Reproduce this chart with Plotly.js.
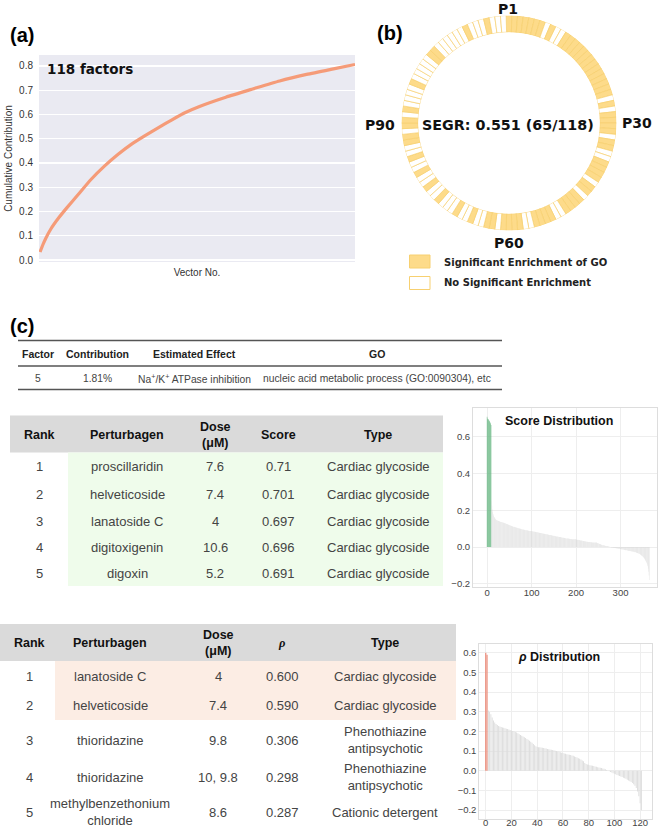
<!DOCTYPE html>
<html><head><meta charset="utf-8">
<script src="https://cdn.plot.ly/plotly-3.0.1.min.js"></script>
<style>html,body{margin:0;padding:0;background:#fff}#chart{width:658px;height:828px}</style>
</head><body><div id="chart"></div>
<script>
// ---------- DATA ----------
// (a) cumulative contribution of factors
const cumIndex = [1,2,3,5,8,11,15,20,25,30,35,40,45,50,55,60,70,80,90,100,110,118];
const cumValue = [0.033,0.062,0.087,0.128,0.175,0.216,0.268,0.333,0.388,0.436,0.478,0.513,0.546,0.578,0.608,0.632,0.671,0.705,0.738,0.765,0.788,0.806];

// (b) significant GO enrichment per factor (1 = significant), factors P1..P118
const goFlags = [
 1,1,1,1,1,1,1,0,1,0,0,1,1,1,1,1,1,1,1,1,1,1,1,1,1,0,1,0,1,1,
 1,1,0,1,1,0,0,1,1,1,1,0,1,1,0,1,1,1,1,0,0,1,1,1,1,0,0,1,1,
 1,1,0,1,1,0,0,1,0,0,1,0,0,0,1,0,0,1,0,0,1,0,0,1,0,0,1,1,0,1,
 1,0,1,0,0,0,0,1,0,0,0,0,0,1,1,0,0,0,0,0,0,1,0,0,0,1,0,0,0
];
const ringLabels = ['P1','P30','P60','P90'];
const segrText = 'SEGR: 0.551 (65/118)';
const legendText = ['Significant Enrichment of GO','No Significant Enrichment'];

// (c) factor table
const topHeaders = ['Factor','Contribution','Estimated Effect','GO'];
const topRow = ['5','1.81%','Na<sup>+</sup>/K<sup>+</sup> ATPase inhibition','nucleic acid metabolic process (GO:0090304), etc'];

// table 1 (score)
const t1Headers = ['Rank','Perturbagen','Dose<br>(μM)','Score','Type'];
const t1Rank = ['1','2','3','4','5'];
const t1Pert = ['proscillaridin','helveticoside','lanatoside C','digitoxigenin','digoxin'];
const t1Dose = ['7.6','7.4','4','10.6','5.2'];
const t1Score = ['0.71','0.701','0.697','0.696','0.691'];
const t1Type = ['Cardiac glycoside','Cardiac glycoside','Cardiac glycoside','Cardiac glycoside','Cardiac glycoside'];

// table 2 (rho)
const t2Headers = ['Rank','Perturbagen','Dose<br>(μM)','<i>ρ</i>','Type'];
const t2Rank = ['1','2','3','4','5'];
const t2Pert = ['lanatoside C','helveticoside','thioridazine','thioridazine','methylbenzethonium<br>chloride'];
const t2Dose = ['4','7.4','9.8','10, 9.8','8.6'];
const t2Rho = ['0.600','0.590','0.306','0.298','0.287'];
const t2Type = ['Cardiac glycoside','Cardiac glycoside','Phenothiazine<br>antipsychotic','Phenothiazine<br>antipsychotic','Cationic detergent'];

// score distribution (sorted), first scoreHighlightN highlighted
const scoreHighlightN = 10;
const scoreValues = [
 0.710,0.701,0.697,0.696,0.691,0.688,0.684,0.679,0.673,0.665,
 0.250,0.225,0.205,0.190,0.178,0.170,0.164,0.159,0.155,0.152,
 0.150,0.148,0.146,0.145,0.144,0.143,0.142,0.141,0.140,0.139,0.138,0.137,0.136,0.136,0.135,0.134,0.134,0.133,0.132,0.131,
 0.130,0.129,0.128,0.127,0.126,0.125,0.124,0.123,0.122,0.121,0.120,0.119,0.118,0.117,0.116,0.115,0.114,0.113,0.112,0.111,
 0.110,0.110,0.109,0.108,0.108,0.107,0.106,0.105,0.105,0.104,0.103,0.102,0.102,0.101,0.100,0.099,0.099,0.098,0.097,0.097,
 0.096,0.095,0.095,0.094,0.094,0.093,0.093,0.092,0.092,0.091,0.091,0.090,0.090,0.089,0.089,0.088,0.088,0.088,0.087,0.087,
 0.087,0.086,0.086,0.085,0.085,0.084,0.084,0.083,0.083,0.082,0.082,0.081,0.081,0.080,0.080,0.079,0.079,0.078,0.078,0.077,
 0.077,0.076,0.076,0.075,0.075,0.074,0.074,0.073,0.072,0.072,0.071,0.071,0.070,0.070,0.069,0.069,0.068,0.068,0.067,0.067,
 0.066,0.066,0.065,0.065,0.064,0.064,0.063,0.063,0.062,0.062,0.061,0.061,0.060,0.060,0.059,0.059,0.058,0.058,0.057,0.057,
 0.056,0.056,0.055,0.055,0.054,0.054,0.053,0.053,0.052,0.052,0.051,0.051,0.050,0.050,0.049,0.049,0.048,0.048,0.047,0.047,
 0.047,0.046,0.046,0.046,0.045,0.045,0.045,0.044,0.044,0.044,0.043,0.043,0.043,0.043,0.042,0.042,0.042,0.042,0.042,0.042,
 0.041,0.041,0.040,0.040,0.039,0.039,0.038,0.038,0.037,0.037,0.036,0.036,0.035,0.035,0.034,0.034,0.033,0.033,0.032,0.032,
 0.031,0.031,0.030,0.030,0.029,0.029,0.029,0.028,0.028,0.028,0.027,0.027,0.027,0.026,0.026,0.026,0.025,0.025,0.025,0.024,
 0.024,0.024,0.024,0.024,0.024,0.024,0.024,0.023,0.022,0.021,0.020,0.019,0.018,0.017,0.016,0.015,0.014,0.013,0.012,0.011,
 0.010,0.009,0.009,0.008,0.008,0.007,0.007,0.006,0.006,0.005,0.005,0.004,0.004,0.003,0.003,0.002,0.001,0.000,-0.001,-0.002,
 -0.002,-0.003,-0.003,-0.004,-0.004,-0.005,-0.005,-0.006,-0.006,-0.007,-0.007,-0.007,-0.008,-0.008,-0.008,-0.009,-0.009,-0.010,-0.010,-0.011,
 -0.011,-0.012,-0.012,-0.013,-0.013,-0.014,-0.014,-0.015,-0.015,-0.016,-0.016,-0.017,-0.017,-0.018,-0.018,-0.019,-0.019,-0.020,-0.020,-0.021,
 -0.021,-0.022,-0.022,-0.023,-0.023,-0.024,-0.024,-0.025,-0.025,-0.026,-0.026,-0.027,-0.028,-0.028,-0.029,-0.030,-0.031,-0.032,-0.033,-0.034,
 -0.035,-0.036,-0.037,-0.038,-0.040,-0.042,-0.044,-0.046,-0.048,-0.050,-0.052,-0.055,-0.058,-0.061,-0.064,-0.068,-0.072,-0.077,-0.082,-0.088,
 -0.095,-0.105,-0.118,-0.135,-0.155,-0.180
];

// rho distribution (sorted), first rhoHighlightN highlighted
const rhoHighlightN = 2;
const rhoValues = [
 0.600,0.590,
 0.306,0.298,0.287,0.270,0.255,0.245,0.238,0.232,
 0.228,0.225,0.222,0.220,0.218,0.216,0.214,0.212,0.210,0.207,
 0.204,0.202,0.200,0.197,0.194,0.190,0.186,0.182,0.178,0.174,
 0.170,0.166,0.162,0.158,0.153,0.148,0.142,0.136,0.130,0.124,
 0.121,0.120,0.119,0.118,0.117,0.116,0.115,0.113,0.111,0.109,
 0.108,0.107,0.106,0.104,0.102,0.100,0.098,0.096,0.094,0.092,
 0.090,0.088,0.086,0.084,0.083,0.082,0.080,0.078,0.076,0.073,
 0.070,0.067,0.064,0.061,0.057,0.052,0.048,0.040,0.035,0.032,
 0.030,0.028,0.027,0.025,0.024,0.022,0.020,0.018,0.016,0.015,
 0.014,0.012,0.010,0.008,0.004,0.000,-0.003,-0.006,-0.009,-0.012,
 -0.015,-0.018,-0.021,-0.024,-0.027,-0.029,-0.032,-0.035,-0.038,-0.041,
 -0.045,-0.049,-0.053,-0.057,-0.062,-0.068,-0.076,-0.088,-0.105,-0.130,-0.165,-0.200
];

// ---------- HELPERS ----------
const W = 658, H = 828;
const px = v => v / W;
const py = v => 1 - v / H;
const SANS = 'Liberation Sans, Arial, sans-serif';
const BOLDV = 'DejaVu Sans, Verdana, sans-serif';
const annotations = [];
const shapes = [];
function ann(text, x, y, size, opts) {
  opts = opts || {};
  annotations.push(Object.assign({
    text: text, x: px(x), y: py(y), xref: 'paper', yref: 'paper',
    showarrow: false, xanchor: 'center', yanchor: 'middle',
    font: {family: opts.family || SANS, size: size, color: opts.color || '#222',
           weight: opts.bold ? 'bold' : 'normal'}
  }, opts.extra || {}));
}
function rect(x0, y0, x1, y1, fill, line, lw) {
  shapes.push({type: 'rect', xref: 'paper', yref: 'paper', x0: px(x0), x1: px(x1), y0: py(y1), y1: py(y0),
    fillcolor: fill, line: {color: line || 'rgba(0,0,0,0)', width: lw || 0}, layer: 'below'});
}
function hline(x0, x1, y, color, w) {
  shapes.push({type: 'line', xref: 'paper', yref: 'paper', x0: px(x0), x1: px(x1), y0: py(y), y1: py(y),
    line: {color: color, width: w}});
}

// ---------- TRACES ----------
const traces = [];
// (a)
traces.push({type: 'scatter', mode: 'lines', x: cumIndex, y: cumValue, xaxis: 'x', yaxis: 'y',
  line: {color: '#F59B78', width: 3.2, shape: 'spline', smoothing: 0.6}, hoverinfo: 'skip'});
// (b)
const factorLabels = goFlags.map((_, i) => 'P' + (i + 1));
const YEL = '#FDDB8A', YEL_LINE = '#F7D070';
traces.push({type: 'barpolar', r: goFlags.map(() => 1), theta: factorLabels, subplot: 'polar',
  marker: {color: goFlags.map(f => f ? YEL : '#FFFFFF'), line: {color: YEL_LINE, width: 0.7}},
  hoverinfo: 'skip'});
// score distribution
const scoreRank = scoreValues.map((_, i) => i);
traces.push({type: 'bar', x: scoreRank, y: scoreValues, xaxis: 'x2', yaxis: 'y2',
  width: scoreValues.map((_, i) => i < scoreHighlightN ? 1.0 : 0.6),
  marker: {color: scoreValues.map((_, i) => i < scoreHighlightN ? '#5FB37C' : '#D6D6D6'), line: {width: 0}},
  hoverinfo: 'skip'});
// rho distribution
const rhoRank = rhoValues.map((_, i) => i);
traces.push({type: 'bar', x: rhoRank, y: rhoValues, xaxis: 'x3', yaxis: 'y3',
  width: rhoValues.map((_, i) => i < rhoHighlightN ? 1.0 : 0.7),
  marker: {color: rhoValues.map((_, i) => i < rhoHighlightN ? '#EC9483' : '#DCDCDC'), line: {width: 0}},
  hoverinfo: 'skip'});

// ---------- DECORATION ----------
// (a) background
shapes.push({type: 'rect', xref: 'x domain', yref: 'y domain', x0: 0, x1: 1, y0: 0, y1: 1,
  fillcolor: '#EAEAF2', line: {width: 0}, layer: 'below'});
ann('(a)', 22, 35, 20, {bold: true, color: '#000'});
ann('118 factors', 90, 69, 13.5, {bold: true, family: BOLDV, color: '#111'});

// (b)
ann('(b)', 390, 33, 20, {bold: true, color: '#000'});
ann(ringLabels[0], 508, 9, 14, {bold: true, family: BOLDV, color: '#111'});
ann(ringLabels[1], 637, 123, 14, {bold: true, family: BOLDV, color: '#111'});
ann(ringLabels[2], 509, 243, 14, {bold: true, family: BOLDV, color: '#111'});
ann(ringLabels[3], 380, 125, 14, {bold: true, family: BOLDV, color: '#111'});
ann(segrText, 508, 125, 14.3, {bold: true, family: BOLDV, color: '#111'});
rect(409.5, 255, 430, 268, YEL, YEL_LINE, 1);
rect(409.5, 276.5, 430, 289.5, '#FFFFFF', YEL_LINE, 1);
ann(legendText[0], 442, 262, 10, {bold: true, family: BOLDV, color: '#222', extra: {xanchor: 'left'}});
ann(legendText[1], 442, 283, 10, {bold: true, family: BOLDV, color: '#222', extra: {xanchor: 'left'}});

// (c)
ann('(c)', 22, 326, 20, {bold: true, color: '#000'});
hline(18, 502, 340.5, '#555', 1.6);
hline(18, 502, 366, '#555', 1.6);
hline(18, 502, 389.5, '#555', 1.6);
const topX = [38, 97, 194, 377];
topHeaders.forEach((h, i) => ann(h, topX[i], 353.5, 10.5, {bold: true, color: '#222'}));
topRow.forEach((h, i) => ann(h, topX[i], 378, 10.3, {color: '#444'}));

// table 1
rect(10, 415.5, 443, 452.5, '#DADADA');
rect(68, 452.5, 443, 586, '#EFFCEB');
const t1X = [39, 127, 215, 278, 378];
t1Headers.forEach((h, i) => ann(h, t1X[i], 434.5, 12.5, {bold: true, color: '#111'}));
const t1Y = [467, 494, 521, 547, 573];
const t1Cols = [t1Rank, t1Pert, t1Dose, t1Score, t1Type];
t1Cols.forEach((col, c) => col.forEach((v, r) => ann(v, t1X[c], t1Y[r], 13, {color: '#444'})));

// table 2
rect(0, 624, 456, 661, '#DADADA');
rect(55, 661, 456, 720, '#FCEDE4');
const t2X = [29, 110, 218, 282, 385];
t2Headers.forEach((h, i) => ann(h, t2X[i], 643, 12.5, {bold: true, color: '#111',
  family: i === 3 ? 'Liberation Serif, serif' : SANS}));
const t2Y = [676, 705, 740, 777, 812];
const t2Cols = [t2Rank, t2Pert, t2Dose, t2Rho, t2Type];
t2Cols.forEach((col, c) => col.forEach((v, r) => ann(v, t2X[c], t2Y[r], 13, {color: '#444'})));

// distribution titles
ann('Score Distribution', 559, 421, 12.5, {bold: true, color: '#111'});
ann('<i>ρ</i> Distribution', 559, 657, 12.5, {bold: true, color: '#111'});

// ---------- LAYOUT ----------
const distAxis = {showline: true, mirror: true, linecolor: '#DDDDDD', linewidth: 1, gridcolor: '#EEEEEE',
  zeroline: false, ticks: '', tickfont: {family: SANS, size: 9.5, color: '#444'}, automargin: false};
const layout = {
  width: W, height: H, margin: {l: 0, r: 0, t: 0, b: 0},
  paper_bgcolor: '#FFFFFF', plot_bgcolor: 'rgba(0,0,0,0)', showlegend: false,
  font: {family: SANS},
  xaxis: {domain: [px(39), px(355)], range: [0.6, 118], showticklabels: false, showgrid: false,
    zeroline: false, ticks: '', automargin: false,
    title: {text: 'Vector No.', font: {size: 10, color: '#333'}, standoff: 6}},
  yaxis: {domain: [py(262), py(55)], range: [-0.008, 0.845], dtick: 0.1, tickformat: '.1f',
    gridcolor: '#FFFFFF', gridwidth: 1.2, zeroline: false, ticks: '', automargin: false,
    ticklabelstandoff: 5, tickfont: {size: 10, color: '#333'},
    title: {text: 'Cumulative Contribution', font: {size: 10, color: '#333'}, standoff: 4}},
  polar: {domain: {x: [px(401.5), px(616.5)], y: [py(230.5), py(15.5)]}, hole: 0.845, bargap: 0,
    bgcolor: 'rgba(0,0,0,0)',
    radialaxis: {visible: false, range: [0, 1]},
    angularaxis: {visible: false, type: 'category', rotation: 90, direction: 'clockwise', categoryarray: factorLabels}},
  xaxis2: Object.assign({}, distAxis, {domain: [px(473), px(657)], range: [-31.6, 382], tickvals: [0, 100, 200, 300], anchor: 'y2', ticklabelstandoff: -3}),
  yaxis2: Object.assign({}, distAxis, {domain: [py(587), py(408)], range: [-0.218, 0.758], dtick: 0.2, tickformat: '.1f', anchor: 'x2'}),
  xaxis3: Object.assign({}, distAxis, {domain: [px(479.3), px(651.7)], range: [-5, 129], dtick: 20, anchor: 'y3', ticklabelstandoff: -5}),
  yaxis3: Object.assign({}, distAxis, {domain: [py(819), py(644)], range: [-0.245, 0.644], dtick: 0.1, tickformat: '.1f', anchor: 'x3'}),
  bargap: 0.3,
  shapes: shapes,
  annotations: annotations
};
Plotly.newPlot('chart', traces, layout, {staticPlot: true, displayModeBar: false});
</script></body></html>
